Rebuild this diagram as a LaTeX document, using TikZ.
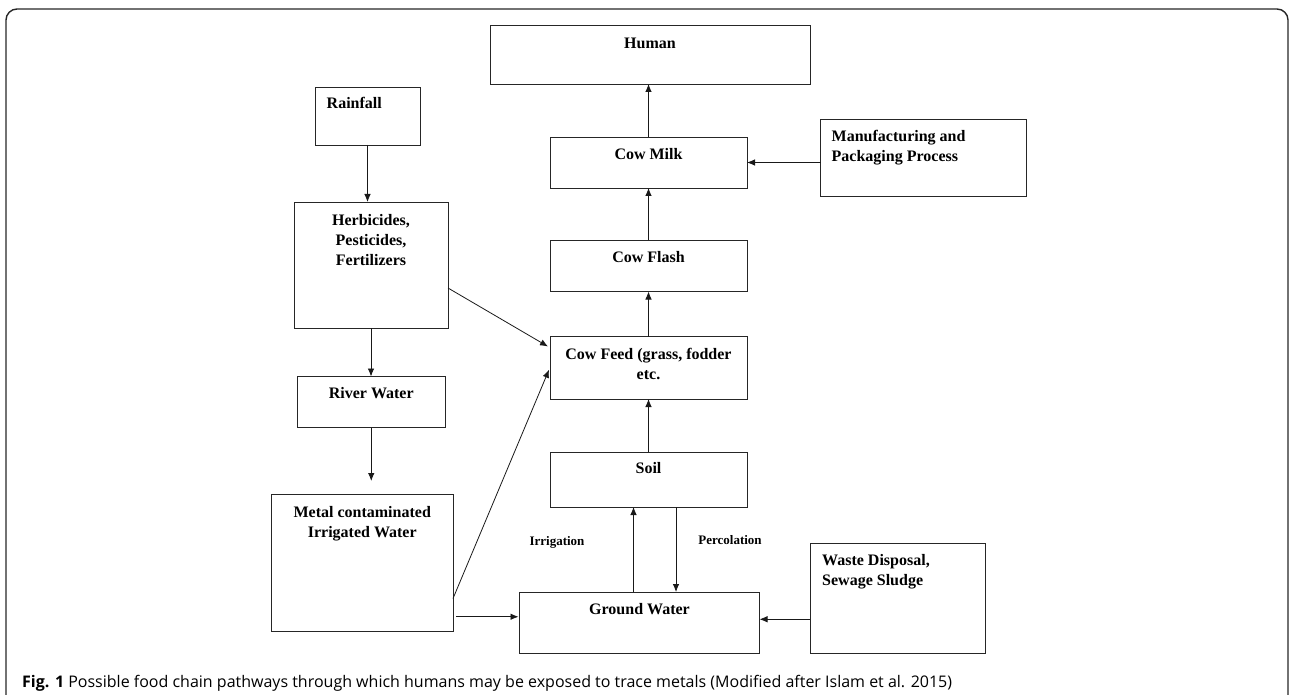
\documentclass[tikz,border=0pt]{standalone}
\usepackage{fontspec}
\setmainfont{Liberation Serif}
\newfontfamily\capfont{Open Sans}
\usepackage{tikz}
\usetikzlibrary{arrows.meta, calc}

\tikzset{
  box/.style={draw=black!85, line width=0.9pt, inner sep=0pt, outer sep=0pt, anchor=north west},
  boxtxt/.style={font=\fontsize{16}{20}\selectfont\bfseries, inner sep=0pt, align=center},
  lefttxt/.style={boxtxt, align=left, anchor=north west},
  arr/.style={-{Latex[length=8pt,width=6.5pt]}, line width=0.8pt, black!90},
  edgelbl/.style={font=\fontsize{13}{15}\selectfont\bfseries, inner sep=0pt},
}

\begin{document}
\begin{tikzpicture}[x=1pt, y=-1pt]
\useasboundingbox (0,0) rectangle (1292,695);

% ===== FRAME =====
\draw[line width=1.4pt, black!85, rounded corners=11pt] (6,700) -- (6,9) -- (1288,9) -- (1288,700);

% ===== LEFT COLUMN =====
% Rainfall
\node[box, minimum width=105pt, minimum height=58pt,
      label={[lefttxt, xshift=11.5pt, yshift=-10.5pt]north west:Rainfall}]
      (rain) at (315,87) {};

% Agro chemicals
\node[box, minimum width=154pt, minimum height=126pt,
      label={[boxtxt, anchor=north, yshift=-12pt]north:{Herbicides,\\Pesticides,\\Fertilizers}}]
      (herb) at (294,202) {};

% River water
\node[box, minimum width=147.5pt, minimum height=51pt,
      label={[boxtxt, anchor=north, yshift=-11pt]north:River Water}]
      (river) at (297.5,376.5) {};

% Irrigated water
\node[box, minimum width=181.5pt, minimum height=137pt,
      label={[boxtxt, anchor=north, yshift=-12pt]north:{Metal contaminated\\Irrigated Water}}]
      (metal) at (271.5,494) {};

% ===== MIDDLE COLUMN =====
% Human
\node[box, minimum width=320pt, minimum height=59pt,
      label={[boxtxt, anchor=north, yshift=-12.5pt]north:Human}]
      (human) at (490,25) {};

% Cow milk
\node[box, minimum width=197pt, minimum height=51pt,
      label={[boxtxt, anchor=north, yshift=-11.5pt]north:Cow Milk}]
      (milk) at (550,137) {};

% Cow flash
\node[box, minimum width=197pt, minimum height=51.5pt,
      label={[boxtxt, anchor=north, yshift=-11.5pt]north:Cow Flash}]
      (flash) at (550,240) {};

% Cow feed
\node[box, minimum width=197pt, minimum height=62.5pt,
      label={[boxtxt, anchor=north, yshift=-11.5pt]north:{Cow Feed (grass, fodder\\etc.}}]
      (feed) at (550,336.5) {};

% Soil
\node[box, minimum width=197pt, minimum height=55pt,
      label={[boxtxt, anchor=north, yshift=-10.5pt]north:Soil}]
      (soil) at (550,452) {};

% Ground water
\node[box, minimum width=240pt, minimum height=61.5pt,
      label={[boxtxt, anchor=north, yshift=-11.5pt]north:Ground Water}]
      (ground) at (519.5,592) {};

% ===== RIGHT COLUMN =====
% Processing
\node[box, minimum width=206pt, minimum height=77pt,
      label={[lefttxt, xshift=11pt, yshift=-11pt]north west:{Manufacturing and\\Packaging Process}}]
      (manu) at (820.5,119) {};

% Waste
\node[box, minimum width=175pt, minimum height=110pt,
      label={[lefttxt, xshift=12pt, yshift=-11.5pt]north west:{Waste Disposal,\\Sewage Sludge}}]
      (waste) at (810,543) {};

% ===== ARROWS =====
\draw[arr] (rain.south) -- (rain.south |- herb.north);
\draw[arr] (herb.south) -- (herb.south |- river.north);
\draw[arr, shorten >=13pt] (river.south) -- (river.south |- metal.north);
\draw[arr] ($(herb.east)+(0,23)$) -- ($(feed.north west)+(-2,10)$);
\draw[arr] ($(metal.east)+(0,36)$) -- ($(feed.west)+(-1,2)$);
\draw[arr] ($(metal.east |- ground.west)+(3,-6)$) -- ($(ground.west)+(-1,-6)$);
\draw[arr] ($(waste.west |- ground.east)+(0,-3.5)$) -- ($(ground.east)+(0,-3.5)$);

\draw[arr] (soil.north) -- (feed.south);
\draw[arr] (feed.north) -- (flash.south);
\draw[arr] (flash.north) -- (milk.south);
\draw[arr] (milk.north) -- (milk.north |- human.south);
\draw[arr] (manu.west |- milk.east) -- (milk.east);

% Irrigation / percolation
\coordinate (irr) at ($(soil.south)+(-15,0)$);
\coordinate (perc) at ($(soil.south)+(27.5,0)$);
\draw[arr] (irr |- ground.north) -- (irr);
\draw[arr] (perc) -- (perc |- ground.north);
\node[edgelbl] (irrlbl) at (557,542) {Irrigation};
\node[edgelbl] (perclbl) at (730,540) {Percolation};

% ===== CAPTION =====
\node[anchor=base west, inner sep=0pt, font=\capfont\fontsize{16}{18}\selectfont]
      (cap) at (22,687) {\textbf{Fig. 1} Possible food chain pathways through which humans may be exposed to trace metals (Modified after Islam et al. 2015)};

\end{tikzpicture}
\end{document}
